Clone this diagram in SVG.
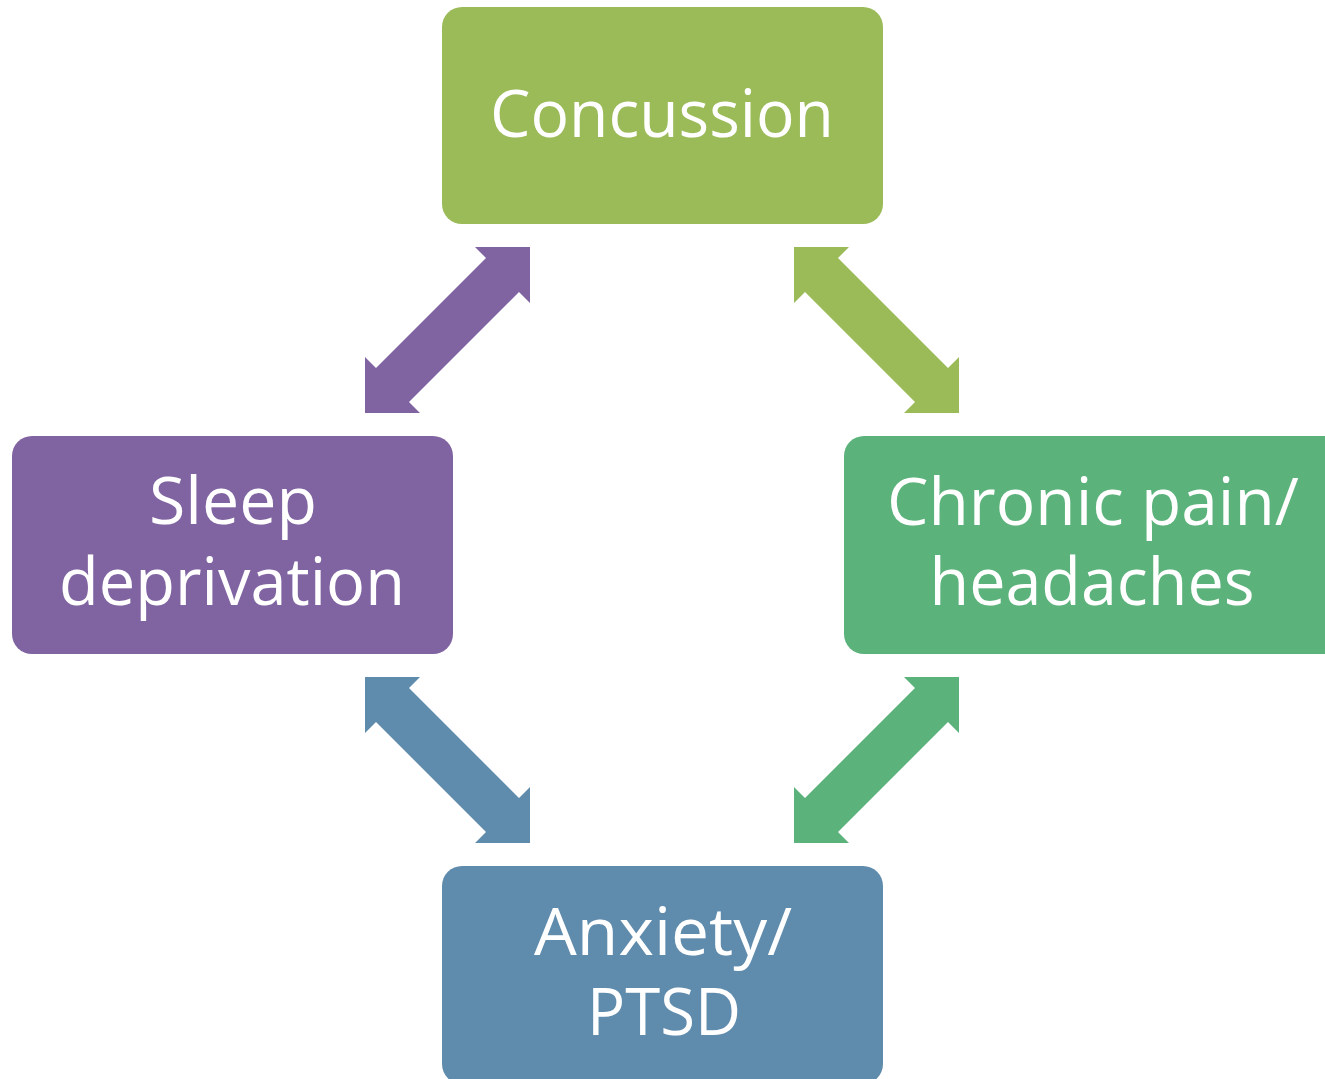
<svg xmlns="http://www.w3.org/2000/svg" width="1325" height="1079" viewBox="0 0 1325 1079">
<style>
  .lbl { font-family: "Open Sans", "Liberation Sans", sans-serif; font-size: 66px; fill: #ffffff; text-anchor: middle; }
</style>
<rect width="1325" height="1079" fill="#ffffff"/>
<g id="connectors">
  <polygon id="arrow-concussion-sleep" fill="#8064A2" points="530,247 475,247 486,258 376,368 365,357 365,413 420,413 409,402 519,292 530,303"/>
  <polygon id="arrow-concussion-chronic" fill="#9BBB59" points="794,247 849,247 838,258 948,368 959,357 959,413 904,413 915,402 805,292 794,303"/>
  <polygon id="arrow-sleep-anxiety" fill="#5F8BAC" points="365,677 420,677 409,688 519,798 530,787 530,843 475,843 486,832 376,722 365,733"/>
  <polygon id="arrow-chronic-anxiety" fill="#5CB27B" points="959,677 904,677 915,688 805,798 794,787 794,843 849,843 838,832 948,722 959,733"/>
</g>
<g id="node-concussion">
  <rect x="442" y="7" width="441" height="217" rx="20" fill="#9BBB59"/>
  <text class="lbl" x="662" y="137" textLength="344" lengthAdjust="spacingAndGlyphs">Concussion</text>
</g>
<g id="node-sleep">
  <rect x="12" y="436" width="441" height="218" rx="20" fill="#8064A2"/>
  <text class="lbl" x="233" y="524" textLength="168" lengthAdjust="spacingAndGlyphs">Sleep</text>
  <text class="lbl" x="232" y="605" textLength="346" lengthAdjust="spacingAndGlyphs">deprivation</text>
</g>
<g id="node-chronic">
  <rect x="844" y="436" width="520" height="218" rx="20" fill="#5CB27B"/>
  <text class="lbl" x="1093" y="525" textLength="412" lengthAdjust="spacingAndGlyphs">Chronic pain/</text>
  <text class="lbl" x="1092" y="605" textLength="325" lengthAdjust="spacingAndGlyphs">headaches</text>
</g>
<g id="node-anxiety">
  <rect x="442" y="866" width="441" height="218" rx="20" fill="#5F8BAC"/>
  <text class="lbl" x="663" y="955" textLength="258" lengthAdjust="spacingAndGlyphs">Anxiety/</text>
  <text class="lbl" x="664" y="1035" textLength="154" lengthAdjust="spacingAndGlyphs">PTSD</text>
</g>
</svg>
